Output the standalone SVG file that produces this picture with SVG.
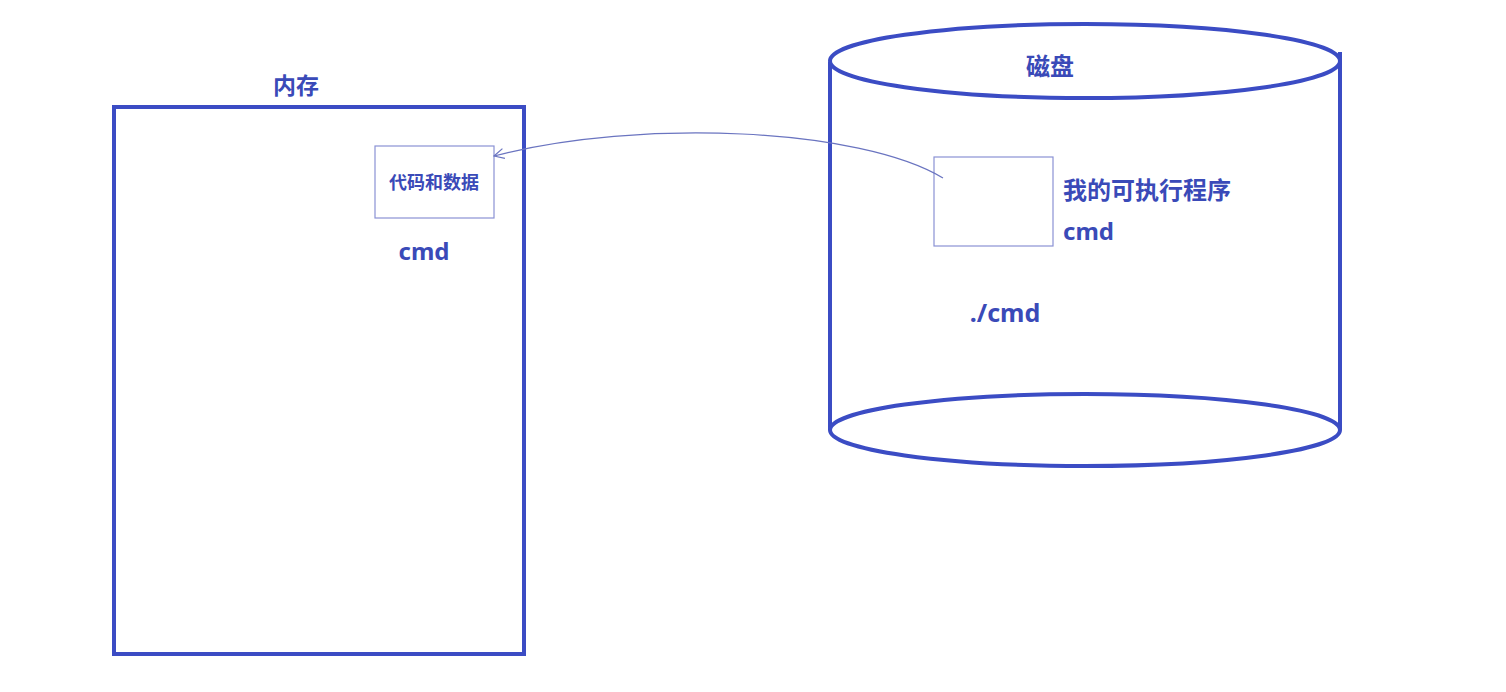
<svg xmlns="http://www.w3.org/2000/svg" width="1506" height="692" viewBox="0 0 1506 692">
<defs>
<style>
.thick{fill:none;stroke:#3b4cc4;stroke-width:4}
.thin{fill:#fff;stroke:#8a92d4;stroke-width:1.2}
.t{font-family:"Noto Sans","Noto Sans CJK SC",sans-serif;font-weight:bold;fill:#3a4ab8}
.conn{fill:none;stroke:#6a74c0;stroke-width:1.2}
</style>
<marker id="arr" viewBox="0 0 12 12" refX="11" refY="6" markerWidth="12" markerHeight="12" markerUnits="userSpaceOnUse" orient="auto">
<path d="M1,1 L11,6 L1,11" fill="none" stroke="#6a74c0" stroke-width="1.2"/>
</marker>
</defs>
<rect width="1506" height="692" fill="#fff"/>
<g id="memory">
<rect class="thick" x="114" y="107" width="410" height="547"/>
<text class="t" x="296" y="94" font-size="23" text-anchor="middle">内存</text>
</g>
<g id="code-data">
<rect class="thin" x="375" y="146" width="119" height="72"/>
<text class="t" x="434" y="189" font-size="18" text-anchor="middle">代码和数据</text>
<text class="t" x="424" y="260" font-size="24" text-anchor="middle">cmd</text>
</g>
<g id="disk">
<path class="thick" d="M830,62 V430 M1340,52 V430"/>
<ellipse class="thick" cx="1085" cy="430" rx="255" ry="36" fill="#fff"/>
<ellipse class="thick" cx="1085" cy="61" rx="255" ry="37"/>
<text class="t" x="1050" y="75" font-size="24" text-anchor="middle">磁盘</text>
<text class="t" x="1005" y="322" font-size="25" text-anchor="middle">./cmd</text>
</g>
<g id="program">
<rect class="thin" x="934" y="157" width="119" height="89"/>
<text class="t" x="1063" y="199" font-size="24">我的可执行程序</text>
<text class="t" x="1063" y="240" font-size="24">cmd</text>
</g>
<g id="connectors">
<path class="conn" d="M943,178 C860,128 640,118 494,156" marker-end="url(#arr)"/>
</g>
</svg>
